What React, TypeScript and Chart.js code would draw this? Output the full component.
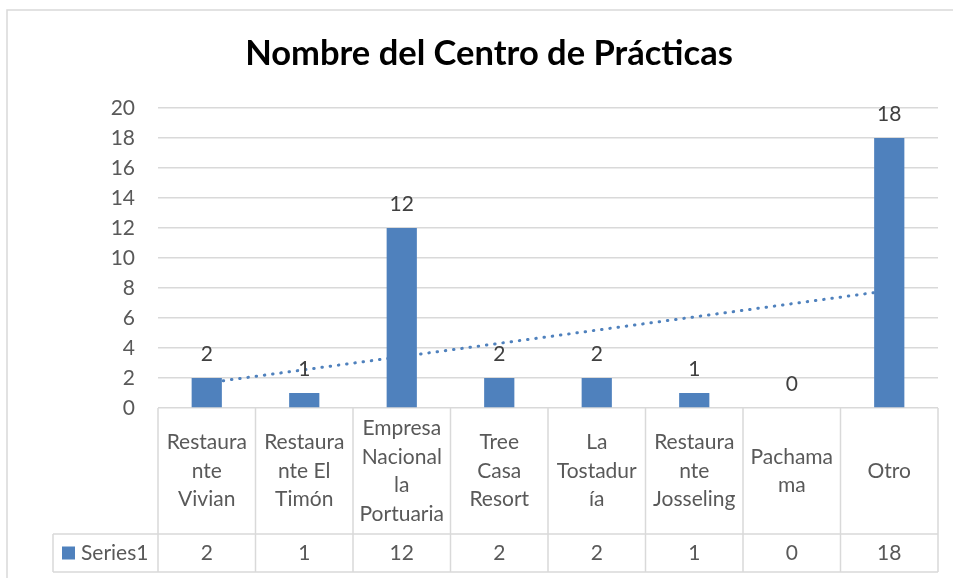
import React, { useEffect, useRef } from "react";
import { Chart, registerables } from "chart.js";

Chart.register(...registerables);

// ---------- data ----------
const chartTitle = "Nombre del Centro de Prácticas";
const categories = [
  "Restaurante Vivian",
  "Restaurante El Timón",
  "Empresa Nacional la Portuaria",
  "Tree Casa Resort",
  "La Tostaduría",
  "Restaurante Josseling",
  "Pachamama",
  "Otro",
];
const categoryLines = [
  ["Restaura", "nte", "Vivian"],
  ["Restaura", "nte El", "Timón"],
  ["Empresa", "Nacional", "la", "Portuaria"],
  ["Tree", "Casa", "Resort"],
  ["La", "Tostadur", "ía"],
  ["Restaura", "nte", "Josseling"],
  ["Pachama", "ma"],
  ["Otro"],
];
const seriesName = "Series1";
const seriesValues = [2, 1, 12, 2, 2, 1, 0, 18];
// linear trend line at the first and last category
const trendValues = [1.67, null, null, null, null, null, null, 7.83];
const yMin = 0;
const yMax = 20;
const yStep = 2;

// ---------- styles ----------
const BAR = "#4F81BD";
const GRID = "#D9D9D9";
const TEXT = "#595959";
const LABEL = "#404040";
const FONT = "Lato, 'Noto Sans', sans-serif";

const frameP = {
  id: "frameP",
  afterLayout(chart: any) {
    // the chart frame runs past the window's right edge; centre the title on it
    if (chart.titleBlock) chart.titleBlock.left += 32;
  },
  beforeDraw(chart: any) {
    const ctx = chart.ctx;
    ctx.save();
    ctx.fillStyle = "#fff";
    ctx.fillRect(0, 0, chart.width, chart.height);
    ctx.strokeStyle = GRID;
    ctx.lineWidth = 1.5;
    ctx.beginPath();
    ctx.moveTo(7, chart.height + 5);
    ctx.lineTo(7, 10);
    ctx.lineTo(chart.width + 5, 10);
    ctx.stroke();
    ctx.restore();
  },
};

const valueLabelsP = {
  id: "valueLabelsP",
  afterDatasetsDraw(chart: any) {
    const ctx = chart.ctx;
    const meta = chart.getDatasetMeta(0);
    ctx.save();
    ctx.font = `21px ${FONT}`;
    ctx.fillStyle = LABEL;
    ctx.textAlign = "center";
    ctx.textBaseline = "alphabetic";
    meta.data.forEach((el: any, i: number) => {
      ctx.fillText(String(seriesValues[i]), el.x, el.y - 17);
    });
    ctx.restore();
  },
};

const dataTableP = {
  id: "dataTableP",
  afterDraw(chart: any) {
    const ctx = chart.ctx;
    const area = chart.chartArea;
    const xs = chart.scales.x;
    const n = categories.length;
    const step = xs.getPixelForValue(1) - xs.getPixelForValue(0);
    const top = area.bottom;
    const mid = top + 126;
    const bot = top + 164;
    const headLeft = 53;
    ctx.save();
    ctx.strokeStyle = GRID;
    ctx.lineWidth = 1.5;
    ctx.beginPath();
    for (let i = 0; i <= n; i++) {
      const x = area.left + i * step;
      ctx.moveTo(x, top);
      ctx.lineTo(x, bot);
    }
    ctx.moveTo(headLeft, mid);
    ctx.lineTo(area.right, mid);
    ctx.moveTo(headLeft, bot);
    ctx.lineTo(area.right, bot);
    ctx.moveTo(headLeft, mid);
    ctx.lineTo(headLeft, bot);
    ctx.stroke();

    ctx.font = `21px ${FONT}`;
    ctx.fillStyle = TEXT;
    ctx.textAlign = "center";
    ctx.textBaseline = "middle";
    const lh = 28.5;
    const cy = (top + mid) / 2;
    categoryLines.forEach((lines, i) => {
      const cx = xs.getPixelForValue(i);
      const y0 = cy - ((lines.length - 1) * lh) / 2;
      lines.forEach((t, j) => ctx.fillText(t, cx, y0 + j * lh));
      ctx.fillText(String(seriesValues[i]), cx, (mid + bot) / 2);
    });
    // legend key + series name
    ctx.fillStyle = BAR;
    ctx.fillRect(62, (mid + bot) / 2 - 6.5, 13, 13);
    ctx.fillStyle = TEXT;
    ctx.textAlign = "left";
    ctx.fillText(seriesName, 81, (mid + bot) / 2);
    ctx.restore();
  },
};

export default function App() {
  const ref = useRef<HTMLCanvasElement | null>(null);
  useEffect(() => {
    if (!ref.current) return;
    const chart = new Chart(ref.current, {
      type: "bar",
      data: {
        labels: categories,
        datasets: [
          {
            type: "bar",
            label: seriesName,
            data: seriesValues,
            backgroundColor: BAR,
            borderWidth: 0,
            barPercentage: 0.31,
            categoryPercentage: 1,
            order: 0,
          },
          {
            type: "line",
            label: "Trend",
            data: trendValues as any,
            borderColor: BAR,
            borderWidth: 3,
            borderDash: [0.5, 7.8],
            borderCapStyle: "round",
            pointRadius: 0,
            spanGaps: true,
            fill: false,
            order: 1,
          } as any,
        ],
      },
      options: {
        responsive: false,
        animation: false,
        devicePixelRatio: 1,
        layout: { padding: { left: 8, right: 15, top: 10, bottom: 170 } },
        plugins: {
          legend: { display: false },
          tooltip: { enabled: false },
          title: {
            display: true,
            text: chartTitle,
            color: "#000",
            font: { family: FONT, size: 34.5, weight: "bold" },
            padding: { top: 23.3, bottom: 33.3 },
          },
        },
        scales: {
          x: { display: false, offset: true },
          y: {
            min: yMin,
            max: yMax,
            border: { display: false },
            grid: { color: GRID, lineWidth: 1.5, drawTicks: false },
            ticks: {
              stepSize: yStep,
              color: TEXT,
              font: { family: FONT, size: 21 },
              padding: 23,
            },
            afterFit: (axis: any) => {
              axis.width = 150;
            },
          },
        },
      },
      plugins: [frameP, valueLabelsP, dataTableP],
    });
    return () => chart.destroy();
  }, []);
  return (
    <div style={{ position: "absolute", left: 0, top: 0, width: 953, height: 578, background: "#fff" }}>
      <canvas ref={ref} width={953} height={578} style={{ display: "block" }} />
    </div>
  );
}
